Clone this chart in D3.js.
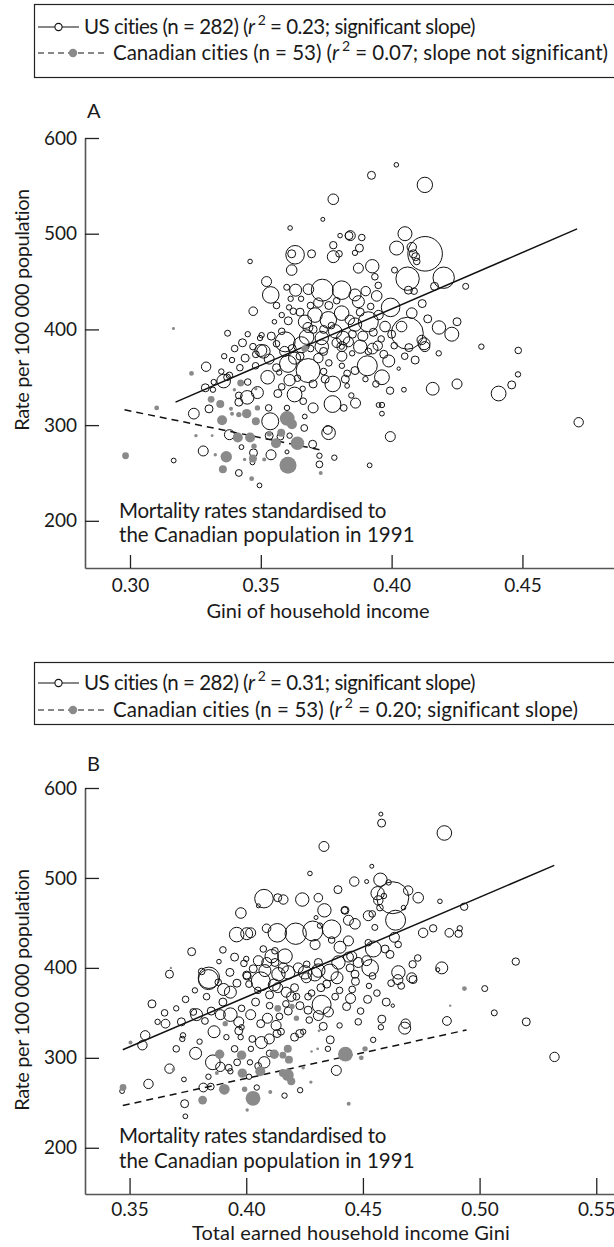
<!DOCTYPE html>
<html><head><meta charset="utf-8">
<script src="https://cdn.jsdelivr.net/npm/d3@7"></script>
<style>
body{margin:0;background:#fff}
svg{display:block}
text{font-family:Lato,"Open Sans",sans-serif;fill:#1a1a1a}
</style>
</head><body>
<svg id="c" width="614" height="1247"></svg>
<script>
// ---------- DATA (gini, rate per 100 000, population in thousands) ----------
const usA = [[0.3777,536,787],[0.3737,515,112],[0.3612,506,148],[0.3837,498,448],[0.3803,498,148],[0.3777,488,383],[0.3631,478,2422],[0.3618,479,448],[0.3694,479,448],[0.3777,476,1008],[0.3799,479,305],[0.3459,471,148],[0.3618,462,787],[0.3522,450,700],[0.3538,436,1929],[0.3599,444,252],[0.3633,441,1008],[0.3682,442,787],[0.3735,441,3388],[0.3809,441,2422],[0.3614,432,204],[0.3654,432,204],[0.3471,419,518],[0.3552,408,148],[0.3605,409,448],[0.3608,423,204],[0.3624,419,305],[0.3669,408,1257],[0.3707,415,1492],[0.3758,410,1929],[0.3809,417,1492],[0.3373,396,252],[0.3503,394,204],[0.3497,391,204],[0.3593,387,2800],[0.3675,392,1492],[0.3733,391,1257],[0.3784,398,1257],[0.3815,391,1257],[0.3510,377,1257],[0.3809,382,204],
[0.3923,561,448],[0.4018,572,148],[0.4127,551,1660],[0.4051,500,1372],[0.4019,485,1372],[0.4128,479,8380],[0.4077,486,619],[0.4083,479,448],[0.4092,476,448],[0.4096,471,305],[0.4061,453,3833],[0.4199,454,3206],[0.4164,445,448],[0.4283,445,252],[0.4011,462,252],[0.4064,441,448],[0.4086,440,305],[0.3842,498,700],[0.3886,496,305],[0.3877,485,448],[0.3860,480,204],[0.3926,466,1257],[0.3873,464,700],[0.3936,455,305],[0.3949,446,305],[0.3901,440,619],[0.3943,435,787],[0.3860,436,1008],[0.3873,429,1008],[0.3996,423,2422],[0.4117,427,448],[0.4077,417,787],[0.4138,411,448],[0.4181,402,1257],[0.4230,395,1372],[0.4250,408,448],[0.4060,396,7168],[0.4038,403,787],[0.3975,403,787],[0.3911,408,2800],[0.3860,405,1257],[0.4115,389,619],[0.4124,385,1008],[0.4343,382,204],[0.4484,378,305],[0.3947,383,619],[0.3911,377,305],[0.3835,387,700],[0.3880,382,1257],
[0.4483,353,204],[0.4459,342,448],[0.4409,333,1533],[0.4250,343,700],[0.4157,338,1147],[0.4047,337,161],[0.3994,336,383],[0.4715,303,619],[0.3995,288,700],[0.3963,321,204],[0.3950,321,161],[0.3963,312,161],[0.3916,258,161],[0.4027,359,81],[0.3907,362,2800],[0.3963,350,1533],[0.3989,367,1008],[0.3927,380,816],[0.4066,381,448],[0.4127,382,700],[0.3775,343,1704],[0.3823,348,448],[0.3830,354,324],[0.3830,341,161],[0.3774,322,1976],[0.3862,323,700],[0.3846,331,204],[0.3817,318,324],[0.3759,292,1295],[0.3756,295,542],[0.3781,266,204],[0.3724,268,204],[0.3724,259,324],[0.3698,280,448],[0.3666,297,324],[0.3668,309,161],[0.3700,318,700],[0.3662,325,324],[0.3629,332,1533],[0.3610,347,910],[0.3565,333,448],[0.3681,357,4032],[0.3604,364,2023],[0.3526,350,1295],[0.3487,334,1008],[0.3448,329,1295],[0.3416,331,324],[0.3416,324,448],[0.3536,304,2023],[0.3575,288,324],[0.3610,289,204],[0.3532,289,448],[0.3539,269,700],[0.3472,271,448],[0.3426,277,161],[0.3468,261,161],[0.3380,290,700],[0.3280,273,700],[0.3167,263,161],[0.3416,250,324],[0.3495,237,161],[0.3244,312,816],[0.3302,317,448],[0.3291,361,619],[0.3349,356,204],[0.3288,339,448],[0.3317,337,204],[0.3358,346,1295],[0.3371,350,324],[0.3481,374,324],[0.3500,378,1008],[0.3532,369,700],[0.3591,377,700],[0.3629,370,1008],[0.3733,382,1295],[0.3810,382,700],[0.3849,375,204],[0.3810,372,700],[0.3746,348,448],[0.3600,272,112],[0.3601,264,112],[0.3655,384,1792],
[0.3650,372,448],[0.3720,370,619],[0.3760,365,305],[0.3560,360,448],[0.3420,360,305],[0.3390,368,204],[0.3700,400,448],[0.3580,398,305],[0.3470,382,305],
[0.3560,425,305],[0.3580,415,204],[0.3650,418,448],[0.3690,425,305],[0.3720,428,619],[0.3760,425,448],[0.3790,430,305],[0.3680,402,700],[0.3740,400,448],[0.3770,404,305],[0.3840,410,619],[0.3880,418,448],[0.3920,424,305],[0.3950,415,619],[0.3890,393,700],[0.3930,397,448],[0.3960,390,305],[0.4000,395,448],[0.4010,383,305],[0.3850,395,448],[0.3790,386,619],[0.3740,377,448],[0.3690,380,305],[0.3620,380,448],[0.3560,385,305],[0.3540,393,448],[0.3450,395,204],[0.3430,386,448],[0.3400,380,305],[0.3360,372,204],[0.3440,370,448],[0.3480,362,305],[0.3570,355,204],[0.3640,349,305],[0.3700,343,448],[0.3740,356,305],[0.3860,357,448],[0.3900,348,204],[0.3940,343,305],[0.4090,368,448],[0.4050,372,305],[0.4180,375,204],[0.3970,374,448],[0.3810,362,204],[0.3580,340,305],[0.3660,338,204],[0.3530,318,305],[0.3600,318,204],[0.3380,352,305],[0.3320,345,204],[0.3450,345,305]];

const caA = [[0.2983,268,324],[0.3102,318,161],[0.3235,354,161],[0.3252,289,81],[0.3314,289,55],[0.3326,269,81],[0.3310,327,324],[0.3345,322,448],[0.3368,267,910],[0.3355,254,448],[0.3352,305,700],[0.3386,317,112],[0.3390,312,112],[0.3399,337,81],[0.3423,344,324],[0.3416,311,204],[0.3412,287,700],[0.3459,287,700],[0.3474,278,204],[0.3470,265,448],[0.3465,244,161],[0.3446,312,619],[0.3481,304,448],[0.3487,318,204],[0.3513,264,112],[0.3438,264,81],[0.3455,370,55],[0.3481,338,81],[0.3601,307,1533],[0.3619,301,700],[0.3604,258,2023],[0.3640,281,1295],[0.3558,281,700],[0.3578,292,448],[0.3532,291,204],[0.3729,250,112],[0.3668,380,324],[0.3166,401,63]];

const usB = [[0.4333,535,700],[0.4273,505,148],[0.4393,487,448],[0.4076,477,2422],[0.4135,478,448],[0.4159,476,619],[0.4240,476,1257],[0.4309,478,518],[0.4335,464,1257],[0.3977,461,787],[0.4422,464,305],[0.4299,456,112],[0.4052,469,112],[0.3959,437,1492],[0.4002,438,1008],[0.4019,439,700],[0.4087,444,518],[0.4133,439,2422],[0.4212,438,3206],[0.4285,441,2800],[0.4366,443,2422],[0.4295,426,700],[0.4316,447,204],[0.4366,431,305],[0.3766,418,448],[0.3883,407,148],[0.3809,396,305],[0.3840,389,3206],[0.4002,392,448],[0.4073,421,305],[0.4123,419,305],[0.4109,413,1257],[0.4166,413,1492],[0.4052,408,700],[0.4088,406,700],[0.4123,406,448],[0.4159,400,700],[0.4223,400,700],[0.4259,404,305],[0.4309,406,448],[0.4309,397,1257],[0.4252,395,1257],[0.4180,395,1257],[0.4138,393,1257],[0.4080,397,1008],[0.4359,395,1929],[0.4395,406,1257],[0.4438,412,700],[0.4402,423,1008],[0.4438,430,700],[0.4438,453,700],
[0.4577,571,112],[0.4580,561,448],[0.4849,550,1492],[0.4538,513,112],[0.4463,496,619],[0.4516,496,112],[0.4575,498,1257],[0.4610,495,204],[0.4628,478,7168],[0.4563,483,1257],[0.4566,475,619],[0.4573,467,305],[0.4590,480,204],[0.4694,486,619],[0.4737,478,787],[0.4830,474,148],[0.4934,468,383],[0.4674,467,148],[0.4640,453,2800],[0.4523,458,700],[0.4540,460,305],[0.4466,449,787],[0.4423,464,448],[0.4551,445,252],[0.4635,434,700],[0.4651,426,305],[0.4758,439,619],[0.4801,444,383],[0.4870,439,518],[0.4910,438,383],[0.4915,444,204],[0.5155,407,383],[0.4838,400,1008],[0.4821,398,112],[0.4735,411,305],[0.4713,404,383],[0.4709,389,700],[0.4652,395,1257],[0.4545,421,1792],[0.4523,428,305],[0.4516,408,700],[0.4531,400,1929],[0.4480,406,700],[0.4445,400,448],[0.4452,413,700],[0.4466,393,448],[0.4595,421,448],[0.4616,415,448],
[0.5022,377,252],[0.5063,350,252],[0.5200,340,448],[0.5321,301,619],[0.4860,341,542],[0.4628,358,81],[0.4679,333,1008],[0.4683,338,619],[0.4581,343,448],[0.4577,334,204],[0.4544,320,204],[0.4386,286,700],[0.4360,320,448],[0.4350,310,204],[0.4231,264,204],[0.4164,258,204],[0.4077,295,910],[0.4051,291,324],[0.4045,267,204],[0.4012,279,204],[0.4016,295,204],[0.3961,295,324],[0.3925,289,324],[0.3932,285,204],[0.3857,295,1533],[0.3889,290,619],[0.3816,267,542],[0.3848,268,324],[0.3838,279,204],[0.3736,249,448],[0.3739,235,161],[0.3733,276,161],[0.3671,288,619],[0.3581,271,619],[0.3468,263,161],[0.3783,305,1008],[0.3726,321,204],[0.3729,325,204],[0.3654,338,542],[0.3722,340,448],[0.3567,325,619],[0.3555,314,619],[0.3596,360,448],[0.3773,351,324],[0.3787,348,1008],[0.3823,341,324],[0.3862,329,1008],[0.3889,348,700],[0.3932,348,1295],[0.3968,340,700],[0.3968,330,448],[0.3980,334,204],[0.4019,348,700],[0.4062,338,448],[0.4091,344,700],[0.4128,336,700],[0.4142,346,324],[0.4149,329,324],[0.4099,321,700],[0.4065,317,1008],[0.4026,321,324],[0.3976,323,204],[0.3915,323,204],[0.4193,368,619],[0.4215,368,324],[0.4265,368,324],[0.4323,359,2527],[0.4265,353,448],[0.4309,347,700],[0.4352,351,700],[0.4381,368,324],[0.4447,366,700],[0.4454,376,324],[0.4229,327,448],[0.4207,323,448],[0.4244,329,204],[0.4132,327,448],[0.3838,387,2800],[0.3903,376,1008],[0.3932,373,1008],[0.4004,391,448],[0.4012,382,324],[0.4062,385,2527],[0.4120,381,1008],[0.4135,378,700],[0.4171,373,700],[0.4207,378,448],[0.4258,389,700],[0.4294,393,1295],[0.4345,382,448],[0.4389,389,1008],[0.4468,385,448],[0.4541,391,324],[0.4526,380,204],[0.4621,383,324],[0.4650,387,700],[0.4715,387,448],[0.4664,380,324],[0.3671,393,448],
[0.3900,420,305],[0.3950,412,448],[0.3990,405,305],[0.4030,399,448],[0.4000,410,204],[0.3930,395,448],[0.3880,384,305],[0.3960,383,448],[0.4050,375,305],[0.4100,370,448],[0.4170,360,305],[0.4230,358,448],[0.4280,372,305],[0.4320,378,448],[0.4400,375,305],[0.4430,357,448],[0.4490,352,305],[0.4520,365,448],[0.4560,372,305],[0.4600,362,448],[0.4480,340,305],[0.4400,336,204],[0.4330,335,448],[0.4270,342,305],[0.4180,352,448],[0.4100,358,305],[0.4040,362,448],[0.3980,355,305],[0.3900,362,448],[0.3830,368,305],[0.3780,375,204],[0.3740,365,305],[0.3700,355,204],[0.3650,350,305],[0.3620,340,204],[0.3850,352,448],[0.3950,310,305],[0.4020,310,204],[0.4100,305,305],[0.3800,318,204],[0.3700,310,305]];

const caB = [[0.3677,400,28],[0.4935,377,161],[0.4874,358,28],[0.4425,304,1533],[0.4509,310,204],[0.4493,300,161],[0.4439,249,112],[0.4312,330,55],[0.4306,310,55],[0.4280,307,28],[0.4277,273,81],[0.4103,262,112],[0.4178,281,1008],[0.4193,274,448],[0.4157,283,448],[0.4178,310,448],[0.4183,298,448],[0.4157,303,324],[0.4120,304,619],[0.4215,344,204],[0.4196,357,204],[0.4135,355,324],[0.4060,285,700],[0.4029,255,1533],[0.4004,242,81],[0.3993,265,204],[0.3983,283,619],[0.3980,303,619],[0.3906,265,816],[0.3874,283,112],[0.3886,304,619],[0.3813,253,542],[0.3688,287,81],[0.3472,267,324],[0.3504,317,112],[0.3910,338,204],[0.4244,289,81]];

// regression lines (start, end)
const fitUsA = [[0.3174,324],[0.4709,505]];
const fitCaA = [[0.2979,316],[0.3729,274]];
const fitUsB = [[0.3471,309],[0.5320,514]];
const fitCaB = [[0.3471,247],[0.4944,331]];

// tick labels
const xTicksA = [0.30,0.35,0.40,0.45];
const xTicksB = [0.35,0.40,0.45,0.50,0.55];
const yTicks = [200,300,400,500,600];

const legendA = [
  {pre:"US cities (n = 282) (", post:" = 0.23; significant slope)"},
  {pre:"Canadian cities (n = 53) (", post:" = 0.07; slope not significant)"}];
const legendB = [
  {pre:"US cities (n = 282) (", post:" = 0.31; significant slope)"},
  {pre:"Canadian cities (n = 53) (", post:" = 0.20; significant slope)"}];
const note = ["Mortality rates standardised to","the Canadian population in 1991"];
const yTitle = "Rate per 100 000 population";

// ---------- DRAWING ----------
const svg = d3.select('#c');
const rScale = d3.scaleSqrt().domain([0, 8400]).range([0, 17.3]);
const GRAY = '#8a8a8a';
const FS = 20.5;

// spread / tighten letters so a text spans the width seen in the reference
function fit(sel, w){
  const n = sel.node();
  const nat = n.getComputedTextLength();
  const k = n.getNumberOfChars();
  sel.style('letter-spacing', ((w - nat)/k).toFixed(3)+'px');
  return sel;
}

function panel(o){
  const g = svg.append('g');
  // legend box
  g.append('rect').attr('x',34.5).attr('y',o.boxTop+0.5).attr('width',600).attr('height',o.boxH)
    .attr('fill','none').attr('stroke','#222').attr('stroke-width',1.2);
  o.legend.forEach((L,i)=>{
    const cy = o.boxTop + o.line1 + i*o.lineGap;
    if(i===0){
      g.append('line').attr('x1',38).attr('x2',79).attr('y1',cy).attr('y2',cy).attr('stroke','#111').attr('stroke-width',1.2);
      g.append('circle').attr('cx',58.5).attr('cy',cy).attr('r',3.6).attr('fill','#fff').attr('stroke','#111').attr('stroke-width',1.1);
    } else {
      g.append('line').attr('x1',38).attr('x2',106).attr('y1',cy).attr('y2',cy).attr('stroke','#111').attr('stroke-width',1.2).attr('stroke-dasharray','6,4');
      g.append('circle').attr('cx',73).attr('cy',cy).attr('r',4.2).attr('fill',GRAY);
    }
    const t = g.append('text').attr('x', i===0?84:113).attr('y',cy+7).attr('font-size',FS);
    t.append('tspan').text(L.pre);
    t.append('tspan').attr('font-style','italic').text('r');
    t.append('tspan').attr('font-size',14).attr('dx',3).attr('dy',-9).text('2');
    t.append('tspan').attr('dy',9).text(L.post);
    fit(t, o.legendW[i]);
  });
  g.append('text').attr('x',87).attr('y',o.letterY).attr('font-size',20).text(o.letter);

  const x = d3.scaleLinear().domain(o.xDom).range([85,614]);
  const y = d3.scaleLinear().domain(o.yDom).range([o.yBot,o.yTop]);

  // axes
  const ax = g.append('g').attr('transform',`translate(0,${o.yBot})`)
    .call(d3.axisBottom(x).tickValues(o.xTicks).tickFormat(d3.format('.2f')).tickSizeInner(-o.xTick).tickSizeOuter(0).tickPadding(o.xPad));
  const ay = g.append('g').attr('transform','translate(85,0)')
    .call(d3.axisLeft(y).tickValues(yTicks).tickFormat(d3.format('d')).tickSizeInner(-14).tickSizeOuter(0).tickPadding(8));
  [ax,ay].forEach(a=>{
    a.selectAll('path.domain').attr('stroke','#555').attr('stroke-width',1.6);
    a.selectAll('.tick line').attr('stroke','#222').attr('stroke-width',1.3);
    a.selectAll('.tick text').attr('font-size',19).attr('fill','#1a1a1a').style('font-family','Lato,"Open Sans",sans-serif');
  });
  fit(g.append('text').attr('x',o.xTitleX).attr('y',o.xTitleY).attr('text-anchor','middle').attr('font-size',20).text(o.xTitle), o.xTitleW);
  fit(g.append('text').attr('transform',`translate(29,${o.yTitleY}) rotate(-90)`).attr('text-anchor','middle').attr('font-size',20).text(yTitle), 242);

  // annotation
  note.forEach((s,i)=> fit(g.append('text').attr('x',119).attr('y',o.noteY + i*o.noteGap).attr('font-size',FS).text(s), [267,296][i]));

  // US circles
  g.append('g').selectAll('circle').data(o.us).join('circle')
    .attr('cx',d=>x(d[0])).attr('cy',d=>y(d[1])).attr('r',d=>rScale(d[2]))
    .attr('fill','none').attr('stroke','#111').attr('stroke-width',1);
  // regression lines
  const line = d3.line().x(d=>x(d[0])).y(d=>y(d[1]));
  g.append('path').attr('d',line(o.fitUs)).attr('stroke','#111').attr('stroke-width',1.5).attr('fill','none');
  g.append('path').attr('d',line(o.fitCa)).attr('stroke','#111').attr('stroke-width',1.5).attr('fill','none').attr('stroke-dasharray','7,5');
  // Canadian dots
  g.append('g').selectAll('circle').data(o.ca).join('circle')
    .attr('cx',d=>x(d[0])).attr('cy',d=>y(d[1])).attr('r',d=>Math.max(1.2,rScale(d[2])))
    .attr('fill',GRAY);
}

panel({boxTop:4, boxH:73, line1:23, lineGap:26, legend:legendA, legendW:[388,492], letter:'A', letterY:118,
  xDom:[0.2828,0.4850], yDom:[150.7,600], yTop:138, yBot:568, xTicks:xTicksA, xTick:13, xPad:11,
  xTitle:'Gini of household income', xTitleX:318, xTitleY:618, xTitleW:223, yTitleY:310,
  noteY:518, noteGap:24, us:usA, ca:caA, fitUs:fitUsA, fitCa:fitCaA});

panel({boxTop:662, boxH:62, line1:21, lineGap:27, legend:legendB, legendW:[388,462], letter:'B', letterY:771,
  xDom:[0.3309,0.5576], yDom:[148.6,600], yTop:788, yBot:1194, xTicks:xTicksB, xTick:16, xPad:9,
  xTitle:'Total earned household income Gini', xTitleX:351, xTitleY:1240, xTitleW:318, yTitleY:990,
  noteY:1143, noteGap:25, us:usB, ca:caB, fitUs:fitUsB, fitCa:fitCaB});
</script>
</body></html>
